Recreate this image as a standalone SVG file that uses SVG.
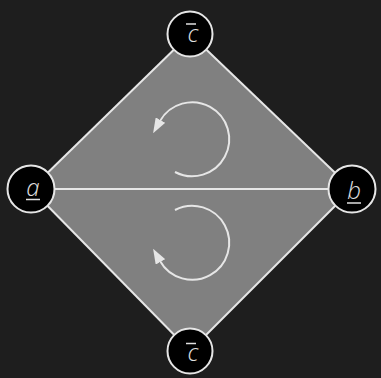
<svg xmlns="http://www.w3.org/2000/svg" width="381" height="378" viewBox="0 0 381 378">
<style>
.bg{fill:#1e1e1e}
.face{fill:#808080;stroke:none}
.edge{stroke:#e6e6e6;stroke-width:2;fill:none}
.node circle{fill:#000;stroke:#e6e6e6;stroke-width:2}
.node text{fill:#e0e0e0;font-family:"Open Sans","DejaVu Sans",sans-serif;font-style:italic;font-weight:300;font-size:24px;text-anchor:middle}
.deco{stroke:#e0e0e0;stroke-width:1.5}
.cyc{stroke:#e6e6e6;stroke-width:2;fill:none;marker-end:url(#ah)}
</style>
<defs>
<marker id="ah" viewBox="0 0 15 11" refX="1" refY="5.5" markerWidth="15" markerHeight="11" markerUnits="userSpaceOnUse" orient="auto">
<path d="M0,0 L15,5.5 L0,11 Z" fill="#e6e6e6"/>
</marker>
</defs>
<rect class="bg" x="0" y="0" width="381" height="378"/>
<polygon class="face" points="190,34 352,189 190,351 31,189"/>
<g id="connectors">
<line class="edge" x1="190" y1="34" x2="31" y2="189"/>
<line class="edge" x1="190" y1="34" x2="352" y2="189"/>
<line class="edge" x1="31" y1="189" x2="352" y2="189"/>
<line class="edge" x1="31" y1="189" x2="190" y2="351"/>
<line class="edge" x1="352" y1="189" x2="190" y2="351"/>
<path class="cyc" d="M175,172 A37,37 0 1 0 160,121"/>
<path class="cyc" d="M175,210 A37,37 0 1 1 160,261"/>
</g>
<g id="node-c-top" class="node">
<circle cx="190" cy="34" r="22.5"/>
<text x="193" y="42">c</text>
<line class="deco" x1="186" y1="24" x2="196" y2="24"/>
</g>
<g id="node-a" class="node">
<circle cx="31" cy="189" r="23.5"/>
<text x="33" y="196">a</text>
<line class="deco" x1="26" y1="199.5" x2="40" y2="199.5"/>
</g>
<g id="node-b" class="node">
<circle cx="352" cy="189" r="23.5"/>
<text x="354" y="199">b</text>
<line class="deco" x1="347" y1="203" x2="361" y2="203"/>
</g>
<g id="node-c-bottom" class="node">
<circle cx="190" cy="351" r="22.5"/>
<text x="193" y="361">c</text>
<line class="deco" x1="186" y1="343.5" x2="196" y2="343.5"/>
</g>
</svg>
